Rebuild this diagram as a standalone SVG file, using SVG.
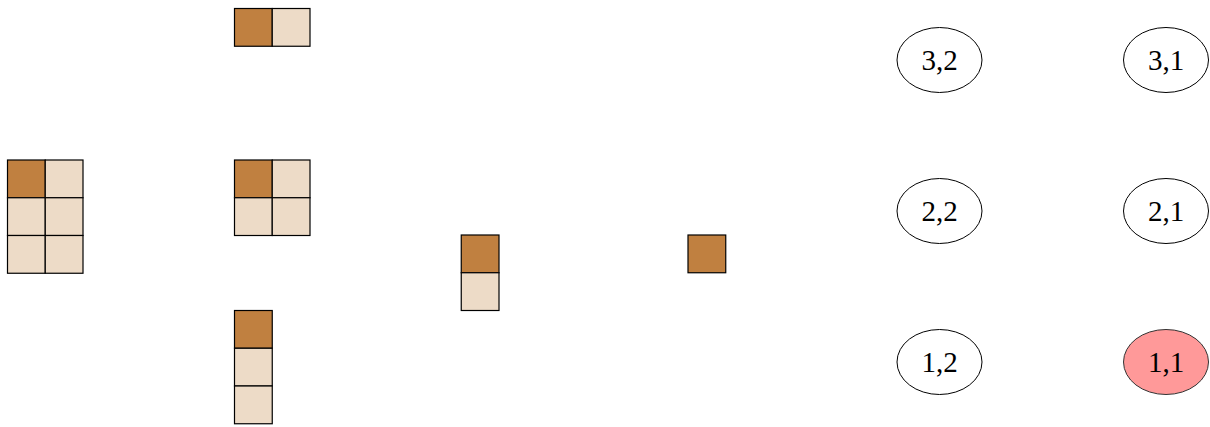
<svg xmlns="http://www.w3.org/2000/svg" width="1210" height="427" viewBox="0 0 1210 427">
<style>
.d{fill:#C08040;stroke:#000;stroke-width:1.2}
.l{fill:#EDDBC7;stroke:#000;stroke-width:1.2}
.e{fill:#fff;stroke:#000;stroke-width:1}
.r{fill:#FF9999;stroke:#333;stroke-width:1}
text{font-family:"Liberation Serif","DejaVu Serif",serif;font-size:29px;text-anchor:middle;fill:#000}
</style>
<defs>
<rect id="cd" class="d" width="37.75" height="37.75"/>
<rect id="cl" class="l" width="37.75" height="37.75"/>
</defs>
<g id="grid32">
<use href="#cd" x="7.5" y="160"/><use href="#cl" x="45.25" y="160"/>
<use href="#cl" x="7.5" y="197.75"/><use href="#cl" x="45.25" y="197.75"/>
<use href="#cl" x="7.5" y="235.5"/><use href="#cl" x="45.25" y="235.5"/>
</g>
<g id="grid12">
<use href="#cd" x="234.5" y="8.5"/><use href="#cl" x="272.25" y="8.5"/>
</g>
<g id="grid22">
<use href="#cd" x="234.5" y="160"/><use href="#cl" x="272.25" y="160"/>
<use href="#cl" x="234.5" y="197.75"/><use href="#cl" x="272.25" y="197.75"/>
</g>
<g id="grid31">
<use href="#cd" x="234.5" y="310.5"/>
<use href="#cl" x="234.5" y="348.25"/>
<use href="#cl" x="234.5" y="386"/>
</g>
<g id="grid21">
<use href="#cd" x="461.25" y="235"/>
<use href="#cl" x="461.25" y="272.75"/>
</g>
<g id="grid11">
<use href="#cd" x="688" y="235"/>
</g>
<g id="n32"><ellipse class="e" cx="939.5" cy="60" rx="42.5" ry="32.5"/><text x="939.5" y="69.5">3,2</text></g>
<g id="n31"><ellipse class="e" cx="1166" cy="60" rx="42.5" ry="32.5"/><text x="1166" y="69.5">3,1</text></g>
<g id="n22"><ellipse class="e" cx="939.5" cy="211" rx="42.5" ry="32.5"/><text x="939.5" y="220.5">2,2</text></g>
<g id="n21"><ellipse class="e" cx="1166" cy="211" rx="42.5" ry="32.5"/><text x="1166" y="220.5">2,1</text></g>
<g id="n12"><ellipse class="e" cx="939.5" cy="362" rx="42.5" ry="32.5"/><text x="939.5" y="371.5">1,2</text></g>
<g id="n11"><ellipse class="r" cx="1166" cy="362" rx="42.5" ry="32.5"/><text x="1166" y="371.5">1,1</text></g>
<g id="connectors"></g>
</svg>
